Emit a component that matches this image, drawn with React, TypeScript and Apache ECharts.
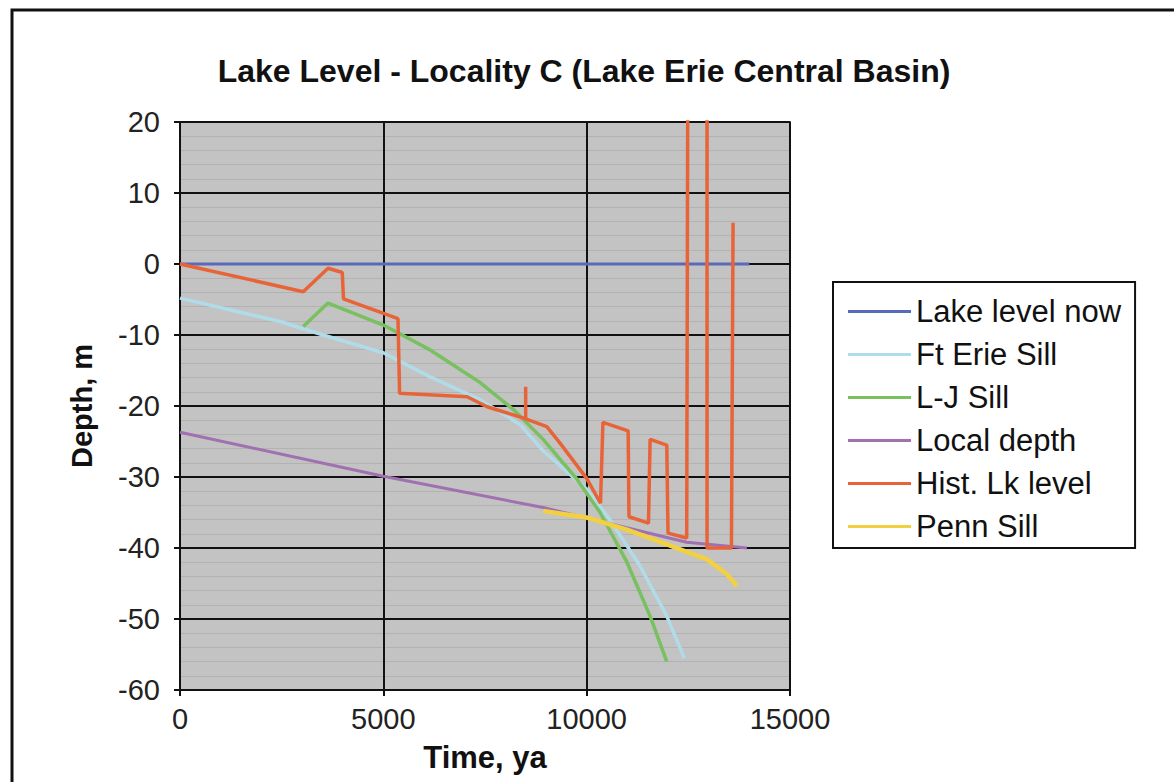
import React, { useEffect, useRef } from "react";
import * as echarts from "echarts";

const seriesNames = ["Lake level now", "Ft Erie Sill", "L-J Sill", "Local depth", "Hist. Lk level", "Penn Sill"];
const seriesColors = ["#5a6ab8", "#b0dcea", "#78c060", "#a070b0", "#e86438", "#f2d040"];
const xTicks = [0, 5000, 10000, 15000];
const yTicks = [-60, -50, -40, -30, -20, -10, 0, 10, 20];

const lakeLevelNow: [number, number][] = [[0, 0], [14000, 0]];
const ftErieSill: [number, number][] = [
  [0, -4.8], [2460, -8.1], [3520, -10], [5000, -12.5], [6150, -15.9], [7380, -19.1], [8360, -22.6],
  [8930, -26.3], [10000, -31.7], [10570, -36], [11310, -42.5], [11970, -49.6], [12400, -55.5],
];
const ljSill: [number, number][] = [
  [3030, -8.8], [3640, -5.5], [5000, -8.6], [6150, -12.1], [7380, -16.7], [8200, -20.5], [8930, -24.7],
  [9760, -30.3], [10330, -35], [10990, -42], [11560, -49.6], [11970, -56],
];
const localDepth: [number, number][] = [[0, -23.7], [5000, -29.9], [8930, -34.3], [12460, -39.2], [13940, -40]];
const histLkLevel: [number, number][] = [
  [0, 0], [3030, -3.9], [3640, -0.6], [3990, -1.2], [4020, -4.9], [5360, -7.7], [5400, -18.2],
  [7060, -18.7], [7550, -20.1], [8500, -21.8], [8500, -17.3], [8500, -21.8], [9020, -22.9], [9340, -25.2],
  [10000, -30.2], [10340, -33.7], [10400, -22.3], [11020, -23.5], [11040, -35.6], [11520, -36.5],
  [11560, -24.7], [11970, -25.5], [12000, -37.9], [12460, -38.6], [12500, 60], [12960, 60], [12960, -40],
  [13560, -40], [13600, 5.8],
];
const pennSill: [number, number][] = [
  [8930, -34.8], [10000, -35.7], [10990, -37.4], [11970, -39.5], [12960, -41.6], [13450, -43.7], [13700, -45.4],
];

const seriesData = [lakeLevelNow, ftErieSill, ljSill, localDepth, histLkLevel, pennSill];
const seriesWidths = [3, 3.5, 3.5, 3, 3.5, 4.5];

const FONT = "'Liberation Sans', Arial, sans-serif";

export default function App() {
  const ref = useRef<HTMLDivElement>(null);
  useEffect(() => {
    if (!ref.current) return;
    const chart = echarts.init(ref.current, undefined, { renderer: "svg" });
    chart.setOption({
      animation: false,
      backgroundColor: "#ffffff",
      title: {
        text: "Lake Level - Locality C (Lake Erie Central Basin)",
        left: 579,
        textAlign: "center",
        top: 50,
        textStyle: { fontFamily: FONT, fontSize: 32, fontWeight: "bold", color: "#111" },
      },
      graphic: [
        {
          type: "rect",
          shape: { x: 12, y: 10, width: 1300, height: 900 },
          style: { fill: "none", stroke: "#111", lineWidth: 3 },
          silent: true,
        },
      ],
      legend: {
        orient: "vertical",
        left: 833,
        top: 282,
        padding: [14, 14, 6, 15],
        borderColor: "#111",
        borderWidth: 2,
        backgroundColor: "#fff",
        icon: "rect",
        itemWidth: 63,
        itemHeight: 3,
        itemGap: 12,
        textStyle: { fontFamily: FONT, fontSize: 31, color: "#111", lineHeight: 30 },
        data: seriesNames,
      },
      grid: {
        left: 180,
        top: 122,
        width: 610,
        height: 568,
        show: true,
        backgroundColor: "#c3c3c3",
        borderColor: "#707070",
        borderWidth: 2,
      },
      xAxis: {
        type: "value",
        min: 0,
        max: 15000,
        interval: 5000,
        name: "Time, ya",
        nameLocation: "middle",
        nameGap: 52,
        nameTextStyle: { fontFamily: FONT, fontSize: 31, fontWeight: "bold", color: "#111" },
        axisLine: { show: true, onZero: false, lineStyle: { color: "#111", width: 2 } },
        axisTick: { show: true, length: 6, lineStyle: { color: "#111", width: 2 } },
        axisLabel: {
          margin: 14,
          fontFamily: FONT,
          fontSize: 29,
          color: "#222",
          customValues: xTicks,
          formatter: (v: number) => String(v),
        },
        splitLine: { show: true, lineStyle: { color: "#111", width: 2 } },
      },
      yAxis: {
        type: "value",
        min: -60,
        max: 20,
        interval: 10,
        name: "Depth, m",
        nameLocation: "middle",
        nameGap: 84,
        nameTextStyle: { fontFamily: FONT, fontSize: 29, fontWeight: "bold", color: "#111" },
        axisLine: { show: true, onZero: false, lineStyle: { color: "#111", width: 2 } },
        axisTick: { show: true, length: 6, lineStyle: { color: "#111", width: 2 } },
        axisLabel: {
          margin: 20,
          fontFamily: FONT,
          fontSize: 29,
          color: "#222",
          customValues: yTicks,
          formatter: (v: number) => String(v),
        },
        splitLine: { show: true, lineStyle: { color: "#111", width: 2 } },
        minorTick: { show: false, splitNumber: 5 },
        minorSplitLine: { show: true, lineStyle: { color: "#b2b2b2", width: 1 } },
      },
      series: seriesNames.map((name, i) => ({
        name,
        type: "line",
        data: seriesData[i],
        symbol: "none",
        clip: true,
        color: seriesColors[i],
        lineStyle: { color: seriesColors[i], width: seriesWidths[i] },
        z: i === 4 ? 5 : 3,
      })),
    });
    return () => chart.dispose();
  }, []);
  return (
    <div
      ref={ref}
      style={{ position: "absolute", left: 0, top: 0, width: 1174, height: 782 }}
    />
  );
}
